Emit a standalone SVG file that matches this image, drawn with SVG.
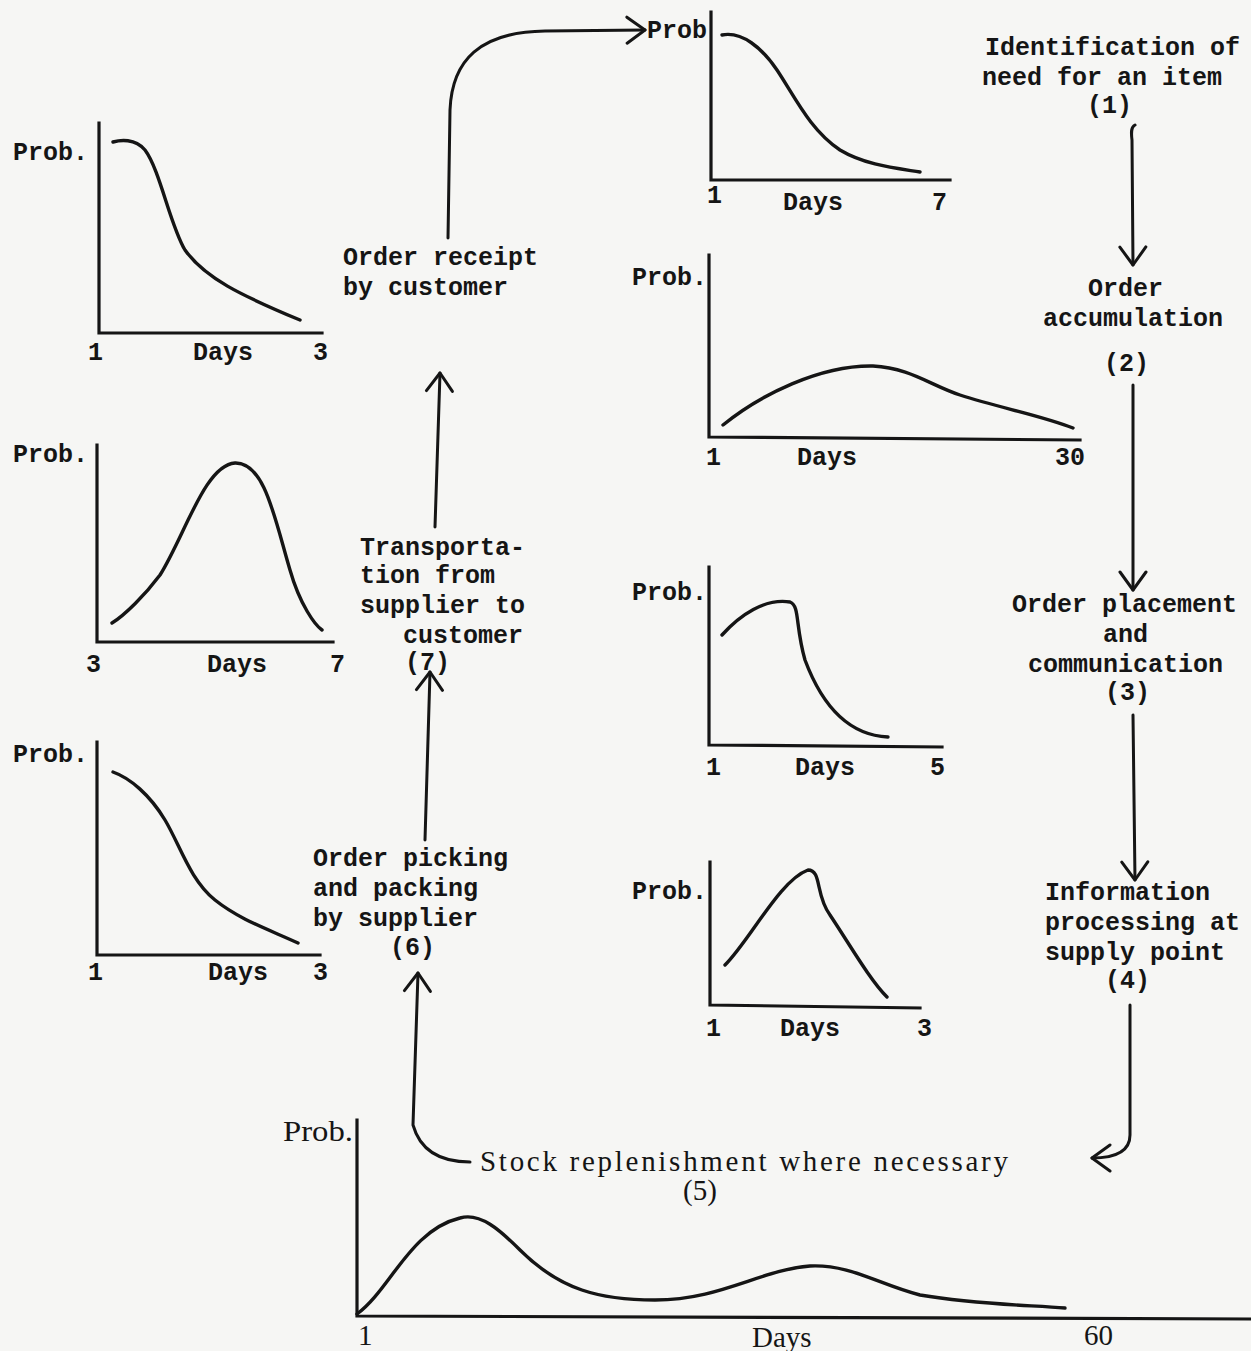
<svg xmlns="http://www.w3.org/2000/svg" width="1251" height="1351" viewBox="0 0 1251 1351">
<style>
.t{font-family:"Liberation Mono","DejaVu Sans Mono",monospace;font-weight:bold;font-size:25px;fill:#151515}
.s{font-family:"Liberation Serif","DejaVu Serif",serif;font-size:29px;fill:#151515}
.ax{fill:none;stroke:#151515;stroke-width:3.2;stroke-linecap:square}
.cv{fill:none;stroke:#151515;stroke-width:3.4;stroke-linecap:round;stroke-linejoin:round}
.cn{fill:none;stroke:#151515;stroke-width:3;stroke-linecap:round;stroke-linejoin:round}
</style>
<defs>
<marker id="v" viewBox="0 0 32 32" refX="30" refY="16" markerWidth="32" markerHeight="32" orient="auto" markerUnits="userSpaceOnUse">
<path d="M12,3 L30,16 L12,29" fill="none" stroke="#151515" stroke-width="3" stroke-linecap="round" stroke-linejoin="round"/>
</marker>
</defs>
<rect width="1251" height="1351" fill="#f6f6f4"/>

<g id="node1">
<text class="t" x="985" y="55">Identification of</text>
<text class="t" x="982" y="85">need for an item</text>
<text class="t" x="1087" y="113">(1)</text>
</g>
<g id="node2">
<text class="t" x="1088" y="296">Order</text>
<text class="t" x="1043" y="326">accumulation</text>
<text class="t" x="1104" y="371">(2)</text>
</g>
<g id="node3">
<text class="t" x="1012" y="612">Order placement</text>
<text class="t" x="1103" y="642">and</text>
<text class="t" x="1028" y="672">communication</text>
<text class="t" x="1105" y="700">(3)</text>
</g>
<g id="node4">
<text class="t" x="1045" y="900">Information</text>
<text class="t" x="1045" y="930">processing at</text>
<text class="t" x="1045" y="960">supply point</text>
<text class="t" x="1105" y="988">(4)</text>
</g>
<g id="node5">
<text class="s" x="480" y="1171" textLength="528" lengthAdjust="spacing">Stock replenishment where necessary</text>
<text class="s" x="683" y="1200">(5)</text>
</g>
<g id="node6">
<text class="t" x="313" y="866">Order picking</text>
<text class="t" x="313" y="896">and packing</text>
<text class="t" x="313" y="926">by supplier</text>
<text class="t" x="390" y="955">(6)</text>
</g>
<g id="node7">
<text class="t" x="360" y="555">Transporta-</text>
<text class="t" x="360" y="583">tion from</text>
<text class="t" x="360" y="613">supplier to</text>
<text class="t" x="403" y="643">customer</text>
<text class="t" x="405" y="670">(7)</text>
</g>
<g id="node8">
<text class="t" x="343" y="265">Order receipt</text>
<text class="t" x="343" y="295">by customer</text>
</g>

<g id="chart-top">
<text class="t" x="647" y="38">Prob</text>
<path class="ax" d="M711,12 L711,180 L950,180"/>
<path class="cv" d="M722,35 C742,31 762,48 777,70 C795,97 810,130 840,150 C865,165 895,168 920,172"/>
<text class="t" x="707" y="203">1</text>
<text class="t" x="783" y="210">Days</text>
<text class="t" x="932" y="210">7</text>
</g>
<g id="chart-30">
<text class="t" x="632" y="285">Prob.</text>
<path class="ax" d="M709,255 L709,437 L1080,440"/>
<path class="cv" d="M723,425 C760,395 820,365 873,366 C910,368 930,385 960,395 C1000,408 1040,415 1073,428"/>
<text class="t" x="706" y="465">1</text>
<text class="t" x="797" y="465">Days</text>
<text class="t" x="1055" y="465">30</text>
</g>
<g id="chart-5">
<text class="t" x="632" y="600">Prob.</text>
<path class="ax" d="M709,567 L709,745 L942,747"/>
<path class="cv" d="M722,635 C740,615 765,598 790,602 C800,606 795,625 805,660 C820,700 845,735 888,737"/>
<text class="t" x="706" y="775">1</text>
<text class="t" x="795" y="775">Days</text>
<text class="t" x="930" y="775">5</text>
</g>
<g id="chart-3b">
<text class="t" x="632" y="899">Prob.</text>
<path class="ax" d="M710,862 L710,1005 L920,1008"/>
<path class="cv" d="M725,965 C750,940 780,880 808,870 C822,870 815,895 830,915 C850,945 870,980 887,997"/>
<text class="t" x="706" y="1036">1</text>
<text class="t" x="780" y="1036">Days</text>
<text class="t" x="917" y="1036">3</text>
</g>
<g id="chart-A">
<text class="t" x="13" y="160">Prob.</text>
<path class="ax" d="M99,123 L99,333 L322,333"/>
<path class="cv" d="M113,142 C120,140 135,138 145,150 C160,170 170,225 185,250 C205,278 240,295 300,320"/>
<text class="t" x="88" y="360">1</text>
<text class="t" x="193" y="360">Days</text>
<text class="t" x="313" y="360">3</text>
</g>
<g id="chart-B">
<text class="t" x="13" y="462">Prob.</text>
<path class="ax" d="M97,445 L97,642 L333,642"/>
<path class="cv" d="M112,623 C125,615 145,595 160,575 C185,535 205,465 235,463 C265,462 275,520 290,570 C300,605 315,625 322,630"/>
<text class="t" x="86" y="672">3</text>
<text class="t" x="207" y="672">Days</text>
<text class="t" x="330" y="672">7</text>
</g>
<g id="chart-C">
<text class="t" x="13" y="762">Prob.</text>
<path class="ax" d="M97,742 L97,955 L320,955"/>
<path class="cv" d="M113,772 C130,778 150,795 165,820 C180,845 190,880 215,900 C240,920 270,930 298,943"/>
<text class="t" x="88" y="980">1</text>
<text class="t" x="208" y="980">Days</text>
<text class="t" x="313" y="980">3</text>
</g>
<g id="chart-60">
<text class="s" x="283" y="1141" textLength="70" lengthAdjust="spacingAndGlyphs">Prob.</text>
<path class="ax" d="M357,1120 L357,1316 L1251,1319"/>
<path class="cv" d="M357,1314 C390,1290 410,1230 460,1218 C480,1212 500,1230 520,1250 C560,1290 600,1300 655,1300 C720,1300 760,1270 810,1266 C850,1264 880,1285 920,1295 C980,1305 1030,1305 1065,1308"/>
<text class="s" x="358" y="1345">1</text>
<text class="s" x="752" y="1347">Days</text>
<text class="s" x="1084" y="1345">60</text>
</g>

<g id="connectors">
<path class="cn" marker-end="url(#v)" d="M1135,125 C1131,127 1131,132 1132,140 L1133,265"/>
<path class="cn" marker-end="url(#v)" d="M1133,385 L1133,590"/>
<path class="cn" marker-end="url(#v)" d="M1133,715 L1135,880"/>
<path class="cn" marker-end="url(#v)" d="M1130,1005 L1130,1135 C1130,1152 1115,1158 1092,1158"/>
<path class="cn" marker-end="url(#v)" d="M470,1162 C440,1162 420,1150 413,1125 L418,973"/>
<path class="cn" marker-end="url(#v)" d="M425,840 L430,672"/>
<path class="cn" marker-end="url(#v)" d="M435,527 L440,373"/>
<path class="cn" marker-end="url(#v)" d="M448,238 L450,110 C452,60 480,32 545,31 L645,30"/>
</g>
</svg>
